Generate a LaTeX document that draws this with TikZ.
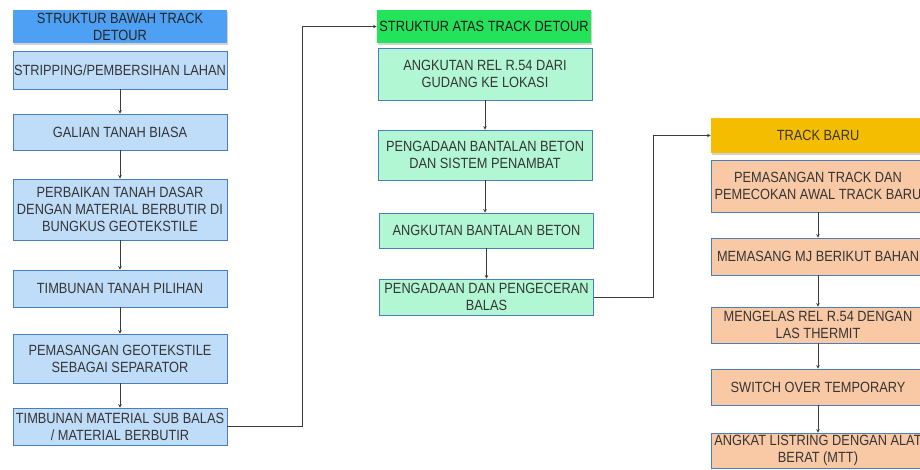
\documentclass[tikz,border=0pt]{standalone}
\usepackage{fontspec}
\setmainfont[FakeStretch=0.865]{Liberation Sans}
\usetikzlibrary{arrows.meta,shadows}
\definecolor{txt}{HTML}{353535}
\definecolor{edge}{HTML}{4A7EBB}
\definecolor{lblue}{HTML}{BFDDF9}
\definecolor{lgreen}{HTML}{B2F7D3}
\definecolor{lpeach}{HTML}{F9C9A6}
\definecolor{hblue}{HTML}{4DA0F3}
\definecolor{hgreen}{HTML}{22E35A}
\definecolor{hgold}{HTML}{F5BD00}
\definecolor{lnk}{HTML}{3C3C3C}
\tikzset{
  box/.style={draw=edge, line width=0.8pt, minimum width=214pt, inner sep=1pt, align=center,
    text=txt, font=\fontsize{14.8pt}{17pt}\selectfont},
  bluebox/.style={box, fill=lblue},
  greenbox/.style={box, fill=lgreen},
  peachbox/.style={box, fill=lpeach},
  head/.style={box, draw=none, drop shadow={opacity=0.35, shadow xshift=0.6pt, shadow yshift=-1.6pt}},
  arr/.style={draw=lnk, line width=0.9pt, -{Stealth[length=3.5pt,width=3.5pt]}},
  conn/.style={draw=lnk, line width=0.9pt, -{Stealth[length=3.5pt,width=3.5pt]}}
}
\begin{document}
\begin{tikzpicture}[x=1pt,y=-1pt]
\useasboundingbox (0,0) rectangle (920,470);
\clip (0,0) rectangle (920,470);
\fill[white] (0,0) rectangle (920,470);
% left column
\node[head, fill=hblue, minimum height=33pt, text=black!85] (H1) at (120,26.5) {STRUKTUR BAWAH TRACK\\DETOUR};
\node[bluebox, minimum height=38pt] (B1) at (120,70) {STRIPPING/PEMBERSIHAN LAHAN};
\node[bluebox, minimum height=36pt] (B2) at (120,132) {GALIAN TANAH BIASA};
\node[bluebox, minimum height=61pt] (B3) at (120,209.5) {PERBAIKAN TANAH DASAR\\DENGAN MATERIAL BERBUTIR DI\\BUNGKUS GEOTEKSTILE};
\node[bluebox, minimum height=37pt] (B4) at (120,288.5) {TIMBUNAN TANAH PILIHAN};
\node[bluebox, minimum height=49pt] (B5) at (120,358.5) {PEMASANGAN GEOTEKSTILE\\SEBAGAI SEPARATOR};
\node[bluebox, minimum height=37pt] (B6) at (120,426.5) {TIMBUNAN MATERIAL SUB BALAS\\/ MATERIAL BERBUTIR};
% middle column
\node[head, fill=hgreen, minimum height=33pt, text=black!90] (H2) at (484,26.5) {STRUKTUR ATAS TRACK DETOUR};
\node[greenbox, minimum height=52pt] (M1) at (485,74) {ANGKUTAN REL R.54 DARI\\GUDANG KE LOKASI};
\node[greenbox, minimum height=50pt] (M2) at (485,155) {PENGADAAN BANTALAN BETON\\DAN SISTEM PENAMBAT};
\node[greenbox, minimum height=35pt] (M3) at (486.5,230.5) {ANGKUTAN BANTALAN BETON};
\node[greenbox, minimum height=36pt] (M4) at (486.5,297) {PENGADAAN DAN PENGECERAN\\BALAS};
% right column
\node[head, fill=hgold, minimum height=35pt] (H3) at (818,135.5) {TRACK BARU};
\node[peachbox, minimum height=52pt] (R1) at (818,186) {PEMASANGAN TRACK DAN\\PEMECOKAN AWAL TRACK BARU};
\node[peachbox, minimum height=37pt] (R2) at (818,256.5) {MEMASANG MJ BERIKUT BAHAN};
\node[peachbox, minimum height=36pt] (R3) at (818,325) {MENGELAS REL R.54 DENGAN\\LAS THERMIT};
\node[peachbox, minimum height=36pt] (R4) at (818,387) {SWITCH OVER TEMPORARY};
\node[peachbox, minimum height=35pt] (R5) at (818,450.5) {ANGKAT LISTRING DENGAN ALAT\\BERAT (MTT)};
% vertical arrows
\foreach \a/\b in {B1/B2,B2/B3,B3/B4,B4/B5,B5/B6,M1/M2,M2/M3,M3/M4,R1/R2,R2/R3,R3/R4,R4/R5}
  \draw[arr] (\a.south) -- (\a.south |- \b.north);
% connectors between columns
\coordinate (k1) at (302,426.5);
\coordinate (k2) at (653,297);
\draw[conn] (B6.east) -- (k1) |- (H2.west);
\draw[conn] (M4.east) -- (k2) |- (H3.west);
\end{tikzpicture}
\end{document}
